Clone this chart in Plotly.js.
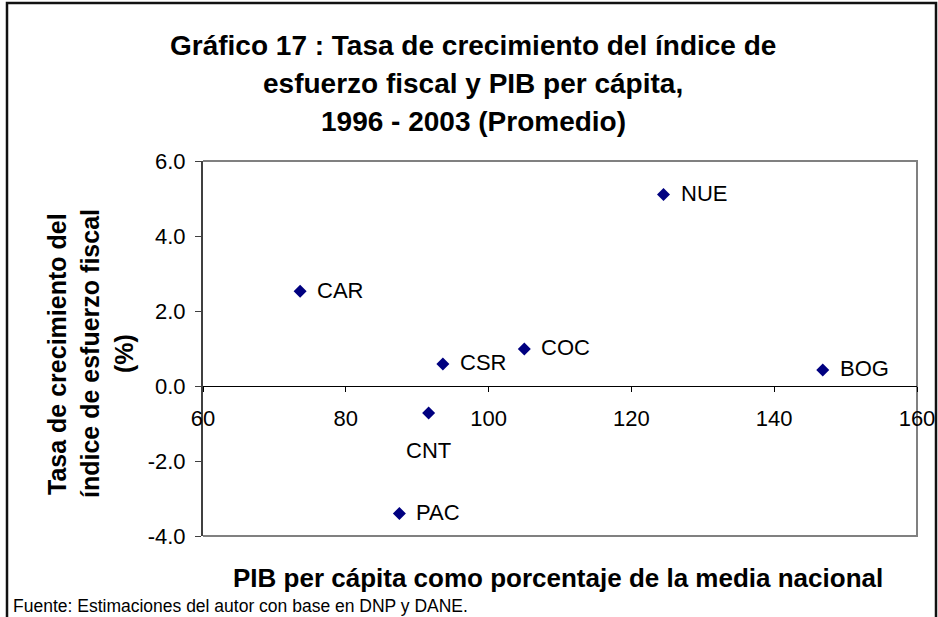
<!DOCTYPE html>
<html>
<head>
<meta charset="utf-8">
<script src="https://cdn.plot.ly/plotly-3.0.1.min.js"></script>
<style>
html,body{margin:0;padding:0;background:#fff;}
#chart{width:938px;height:617px;}
</style>
</head>
<body>
<div id="chart"></div>
<script>
// ---- data ----
const regions = ['NUE', 'CAR', 'CSR', 'COC', 'BOG', 'CNT', 'PAC'];
const pibPerCapita = [124.5, 73.6, 93.6, 105.0, 146.8, 91.6, 87.5];
const tasaCrecimiento = [5.11, 2.53, 0.59, 0.99, 0.43, -0.72, -3.40];
const xTickVals = [60, 80, 100, 120, 140, 160];
const xTickLabels = ['60', '80', '100', '120', '140', '160'];
const yTickVals = [-4, -2, 0, 2, 4, 6];
const yTickLabels = ['-4.0', '-2.0', '0.0', '2.0', '4.0', '6.0'];
const titleLines = ['Gráfico 17 : Tasa de crecimiento del índice de',
                    'esfuerzo fiscal y PIB per cápita,',
                    '1996 - 2003 (Promedio)'];
const yTitleLines = ['Tasa de crecimiento del', 'índice de esfuerzo fiscal', '(%)'];
const xTitle = 'PIB per cápita como porcentaje de la media nacional';
const sourceNote = 'Fuente: Estimaciones del autor con base en DNP y DANE.';

// ---- layout geometry (pixels) ----
const W = 938, H = 617;
const M = {l: 203, r: 21, t: 161, b: 81};
const PW = W - M.l - M.r, PH = H - M.t - M.b;
const px = x => (x - M.l) / PW;          // pixel x -> paper x
const py = y => (H - M.b - y) / PH;      // pixel y -> paper y
const FONT = 'Liberation Sans, Arial, sans-serif';

const annotations = [];
// point labels
regions.forEach((r, i) => {
  const below = (r === 'CNT');
  annotations.push({
    x: pibPerCapita[i], y: tasaCrecimiento[i], xref: 'x', yref: 'y',
    text: r, showarrow: false,
    xanchor: below ? 'center' : 'left', yanchor: 'middle',
    xshift: below ? 0 : 15, yshift: below ? -37 : 1,
    font: {family: FONT, size: 22, color: '#000'}
  });
});
// title lines
const titleY = [45, 83, 122];
titleLines.forEach((t, i) => annotations.push({
  x: px(473), y: py(titleY[i]), xref: 'paper', yref: 'paper',
  text: '<b>' + t + '</b>', showarrow: false, xanchor: 'center', yanchor: 'middle',
  font: {family: FONT, size: 28, color: '#000'}
}));
// y title lines
const yTitleX = [57, 90, 124];
yTitleLines.forEach((t, i) => annotations.push({
  x: px(yTitleX[i]), y: py(354), xref: 'paper', yref: 'paper',
  text: '<b>' + t + '</b>', showarrow: false, textangle: -90,
  xanchor: 'center', yanchor: 'middle',
  font: {family: FONT, size: 25, color: '#000'}
}));
// x title
annotations.push({
  x: px(558), y: py(578), xref: 'paper', yref: 'paper',
  text: '<b>' + xTitle + '</b>', showarrow: false, xanchor: 'center', yanchor: 'middle',
  font: {family: FONT, size: 26, color: '#000'}
});
// source
annotations.push({
  x: px(11), y: py(606), xref: 'paper', yref: 'paper',
  text: sourceNote, showarrow: false, xanchor: 'left', yanchor: 'middle',
  font: {family: FONT, size: 17.5, color: '#000'}
});

const shapes = [
  // outer chart border
  {type: 'rect', xref: 'paper', yref: 'paper', x0: px(7), x1: px(936), y0: py(640), y1: py(3),
   line: {color: '#111', width: 2.5}, fillcolor: 'rgba(0,0,0,0)', layer: 'below'},
  // plot area border (top, right, bottom)
  {type: 'path', xref: 'paper', yref: 'paper',
   path: 'M 0 1 L 1 1 L 1 0 L 0 0', line: {color: '#808080', width: 2}, layer: 'below'}
];

const trace = {
  type: 'scatter', mode: 'markers',
  x: pibPerCapita, y: tasaCrecimiento, text: regions,
  marker: {symbol: 'diamond', size: 10, color: '#000080'},
  hoverinfo: 'text+x+y', cliponaxis: false
};

const layout = {
  width: W, height: H,
  margin: M,
  paper_bgcolor: '#fff', plot_bgcolor: '#fff',
  showlegend: false,
  font: {family: FONT, size: 22, color: '#000'},
  xaxis: {
    range: [60, 160], tickvals: xTickVals, ticktext: xTickLabels,
    anchor: 'free', position: 0.4,
    showgrid: false, zeroline: false,
    showline: true, linecolor: '#000', linewidth: 1,
    ticks: 'outside', ticklen: 5, tickcolor: '#000', tickwidth: 1,
    ticklabelstandoff: 8,
    tickfont: {family: FONT, size: 22, color: '#000'},
    fixedrange: true
  },
  yaxis: {
    range: [-4, 6], tickvals: yTickVals, ticktext: yTickLabels,
    showgrid: false, zeroline: false,
    showline: true, linecolor: '#404040', linewidth: 2,
    ticks: 'outside', ticklen: 6, tickcolor: '#404040', tickwidth: 1,
    ticklabelstandoff: 5,
    tickfont: {family: FONT, size: 22, color: '#000'},
    fixedrange: true
  },
  annotations: annotations,
  shapes: shapes
};

Plotly.newPlot('chart', [trace], layout, {displayModeBar: false, staticPlot: true});
</script>
</body>
</html>
